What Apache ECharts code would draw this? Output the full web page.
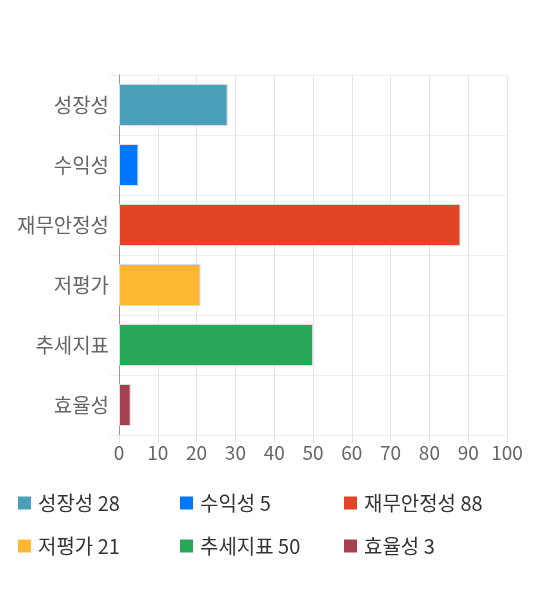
<!DOCTYPE html>
<html lang="ko">
<head>
    <meta charset="UTF-8">
    <title>항목별 점수</title>
    <script src="https://cdn.jsdelivr.net/npm/echarts@6.0.0/dist/echarts.min.js"></script>
    <style>
        html, body { margin: 0; padding: 0; background: #fff; }
    </style>
</head>
<body>
<div id="chart1" style="width: 540px;height:590px;"></div>

<script>
    // chart data
    var categories = ['성장성', '수익성', '재무안정성', '저평가', '추세지표', '효율성'];
    var scores = [28, 5, 88, 21, 50, 3];
    var colors = ['#4aa0ba', '#0077fe', '#e24525', '#fdb733', '#28a756', '#a5404f'];
    var xTicks = [0, 10, 20, 30, 40, 50, 60, 70, 80, 90, 100];

    var fontKR = '"Noto Sans CJK KR", "Noto Sans", sans-serif';

    // one series per category so each gets its own legend item
    var series = categories.map(function (name, i) {
        return {
            name: name,
            type: 'bar',
            stack: 'all',
            barWidth: '70%',
            itemStyle: { color: colors[i], borderColor: '#dcdcdc', borderWidth: 1 },
            data: categories.map(function (_, j) { return j === i ? scores[i] : '-'; })
        };
    });

    // legend laid out as 3 columns x 2 rows
    var colX = [18, 180, 344];
    var rowY = [493, 536];
    var legends = categories.map(function (name, i) {
        return {
            data: [name],
            left: colX[i % 3],
            top: rowY[Math.floor(i / 3)],
            padding: 0,
            icon: 'rect',
            itemWidth: 13,
            itemHeight: 13,
            itemGap: 0,
            itemStyle: { borderWidth: 0 },
            selectedMode: false,
            textStyle: { color: '#333', fontSize: 20, fontFamily: fontKR, padding: [0, 0, 0, 2] },
            formatter: function (n) { return n + ' ' + scores[categories.indexOf(n)]; }
        };
    });

    var myChart = echarts.init(document.getElementById('chart1'));
    var option = {
        animation: false,
        legend: legends,
        grid: { left: 119, right: 33, top: 75, bottom: 155 },
        xAxis: {
            type: 'value',
            min: xTicks[0],
            max: xTicks[xTicks.length - 1],
            interval: xTicks[1] - xTicks[0],
            axisLine: { show: false },
            axisTick: { show: true, length: 8, lineStyle: { color: '#e4e4e4' } },
            axisLabel: { color: '#666', fontSize: 19, margin: 8, fontFamily: fontKR },
            splitLine: { lineStyle: { color: '#e6e6e6' } }
        },
        yAxis: {
            type: 'category',
            inverse: true,
            data: categories,
            axisLine: { show: true, lineStyle: { color: '#999' } },
            axisTick: { show: true, length: 9, lineStyle: { color: '#eeeeee' } },
            axisLabel: { color: '#666', fontSize: 20, margin: 10, fontFamily: fontKR },
            splitLine: { show: true, lineStyle: { color: '#eeeeee' } }
        },
        series: series
    };
    myChart.setOption(option);
</script>
</body>
</html>
